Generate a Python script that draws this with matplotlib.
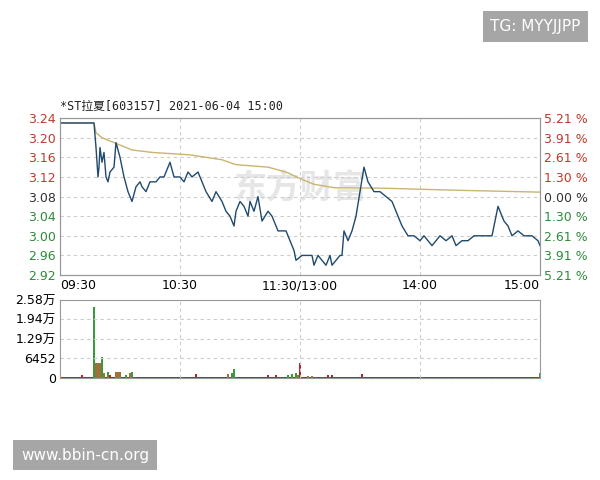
import numpy as np
import matplotlib.pyplot as plt

plt.rcParams['font.family'] = ['DejaVu Sans', 'Noto Sans CJK SC']

prev_close = 3.08
y_ticks = [3.24, 3.20, 3.16, 3.12, 3.08, 3.04, 3.00, 2.96, 2.92]
pct_labels = ['5.21 %', '3.91 %', '2.61 %', '1.30 %', '0.00 %', '1.30 %', '2.61 %', '3.91 %', '5.21 %']
x_ticks = [0, 60, 120, 180, 240]
x_labels = ['09:30', '10:30', '11:30/13:00', '14:00', '15:00']

# minute index (0..240) and price
price_t = [0, 17, 18, 19, 19.5, 20, 21, 22, 23, 24, 25, 27, 28, 30, 32, 34, 36, 38, 40, 41, 43, 45, 48, 50, 52,
           55, 57, 60, 62, 64, 66, 69, 71, 73, 76, 78, 81, 83, 85, 87, 88, 90, 92, 94, 95, 97, 99, 101, 104,
           106, 109, 111, 113, 115, 117, 118, 121, 123, 126, 127, 129, 131, 133, 135, 136, 140, 141, 142, 144,
           146, 148, 150, 152, 154, 157, 160, 163, 166, 168, 171, 174, 177, 180, 182, 184, 186, 188, 190, 193,
           196, 198, 201, 204, 207, 210, 213, 216, 219, 222, 224, 226, 229, 232, 236, 239, 240]
price_v = [3.23, 3.23, 3.18, 3.12, 3.14, 3.18, 3.15, 3.17, 3.12, 3.11, 3.13, 3.14, 3.19, 3.16, 3.12, 3.09, 3.07,
           3.10, 3.11, 3.10, 3.09, 3.11, 3.11, 3.12, 3.12, 3.15, 3.12, 3.12, 3.11, 3.13, 3.12, 3.13, 3.11, 3.09,
           3.07, 3.09, 3.07, 3.05, 3.04, 3.02, 3.05, 3.07, 3.06, 3.04, 3.07, 3.05, 3.08, 3.03, 3.05, 3.04, 3.01,
           3.01, 3.01, 2.99, 2.97, 2.95, 2.96, 2.96, 2.96, 2.94, 2.96, 2.95, 2.94, 2.96, 2.94, 2.96, 2.96, 3.01,
           2.99, 3.01, 3.04, 3.09, 3.14, 3.11, 3.09, 3.09, 3.08, 3.07, 3.05, 3.02, 3.00, 3.00, 2.99, 3.00, 2.99,
           2.98, 2.99, 3.00, 2.99, 3.00, 2.98, 2.99, 2.99, 3.00, 3.00, 3.00, 3.00, 3.06, 3.03, 3.02, 3.00, 3.01,
           3.00, 3.00, 2.99, 2.98]
avg_t = [0, 17, 18, 21, 27, 36, 46, 65, 81, 88, 104, 113, 121, 127, 137, 162, 197, 240]
avg_v = [3.23, 3.23, 3.21, 3.20, 3.19, 3.175, 3.17, 3.165, 3.155, 3.145, 3.14, 3.13, 3.115, 3.105, 3.098,
         3.097, 3.093, 3.089]

# volume: notable bars (minute, volume, colour code)
vol_t = [11, 17, 18, 19, 20, 21, 22, 24, 25, 28, 29, 30, 33, 35, 36, 68, 84, 86, 87, 104, 108, 114, 116, 118,
         119, 120, 124, 126, 134, 136, 151, 240]
vol_v = [1000, 23500, 5000, 5000, 5000, 7000, 1500, 2000, 1000, 2000, 2000, 2000, 1000, 1500, 2000, 1200,
         1200, 1800, 3000, 1000, 1000, 1000, 1200, 1500, 1000, 5000, 800, 800, 1000, 1000, 1200, 1500]
vol_c = ['r', 'g', 'b', 'b', 'b', 'g', 'b', 'g', 'r', 'b', 'b', 'b', 'g', 'b', 'g', 'r',
         'b', 'g', 'g', 'r', 'r', 'g', 'g', 'g', 'b', 'r', 'b', 'b', 'r', 'r', 'r', 'g']
quiet_vol = 350
vol_ticks = [0, 6452, 12900, 19400, 25800]
vol_labels = ['0', '6452', '1.29万', '1.94万', '2.58万']

RED, GREEN, BLACK = '#c0392b', '#2e8b3a', '#333333'
cmap = {'r': '#b22222', 'g': '#3a9a3a', 'b': '#a0703a'}

fig = plt.figure(figsize=(6, 4.8), dpi=100)
ax = fig.add_axes([0.1, 0.427, 0.8, 0.327])
ax.plot(avg_t, avg_v, color='#c9b56e', lw=1.0)
ax.plot(price_t, price_v, color='#1f4a6e', lw=1.0)
ax.set_xlim(0, 240)
ax.set_ylim(2.92, 3.24)
ax.set_yticks(y_ticks)
ax.set_yticklabels([f'{v:.2f}' for v in y_ticks])
for lab, v in zip(ax.get_yticklabels(), y_ticks):
    lab.set_color(RED if v > prev_close else (BLACK if v == prev_close else GREEN))
ax.set_xticks(x_ticks)
ax.set_xticklabels(x_labels)
xl = ax.get_xticklabels()
xl[0].set_ha('left'); xl[-1].set_ha('right')
ax.tick_params(length=0, labelsize=9, pad=3)
ax.grid(True, ls=(0, (3, 3)), color='#cccccc', lw=0.8)
for s in ax.spines.values():
    s.set_color('#999999')
ax2 = ax.twinx()
ax2.set_ylim(2.92, 3.24)
ax2.set_yticks(y_ticks)
ax2.set_yticklabels(pct_labels)
for lab, v in zip(ax2.get_yticklabels(), y_ticks):
    lab.set_color(RED if v > prev_close else (BLACK if v == prev_close else GREEN))
ax2.tick_params(length=0, labelsize=9, pad=3)
for s in ax2.spines.values():
    s.set_color('#999999')
ax.text(0.5, 0.55, '东方财富', transform=ax.transAxes, ha='center', va='center', fontsize=24,
        color='#e6e6e6', family=['Noto Sans CJK SC'], fontweight='bold', zorder=0)
ax.text(0, 1.03, '*ST拉夏[603157] 2021-06-04 15:00', transform=ax.transAxes, fontsize=8.5,
        family=['DejaVu Sans Mono', 'Noto Sans CJK SC'], va='bottom', color='#222222')

axv = fig.add_axes([0.1, 0.2125, 0.8, 0.1625])
axv.bar(np.arange(241), [quiet_vol] * 241, width=0.6, color='#b22222')
axv.bar(vol_t, vol_v, width=0.8, color=[cmap[c] for c in vol_c])
axv.set_xlim(0, 240)
axv.set_ylim(0, 25800)
axv.set_yticks(vol_ticks)
axv.set_yticklabels(vol_labels, family=['DejaVu Sans', 'Noto Sans CJK SC'])
axv.set_xticks([60, 120, 180])
axv.set_xticklabels([])
axv.tick_params(length=0, labelsize=9, pad=3)
axv.grid(True, ls=(0, (3, 3)), color='#cccccc', lw=0.8)
for s in axv.spines.values():
    s.set_color('#999999')

fig.text(0.968, 0.945, 'TG: MYYJJPP', ha='right', va='center', fontsize=11, color='white',
         bbox=dict(boxstyle='square,pad=0.5', fc='#a6a6a6', ec='none'))
fig.text(0.035, 0.052, 'www.bbin-cn.org', ha='left', va='center', fontsize=11, color='white',
         bbox=dict(boxstyle='square,pad=0.5', fc='#a6a6a6', ec='none'))

fig.savefig('out.png', dpi=100)
